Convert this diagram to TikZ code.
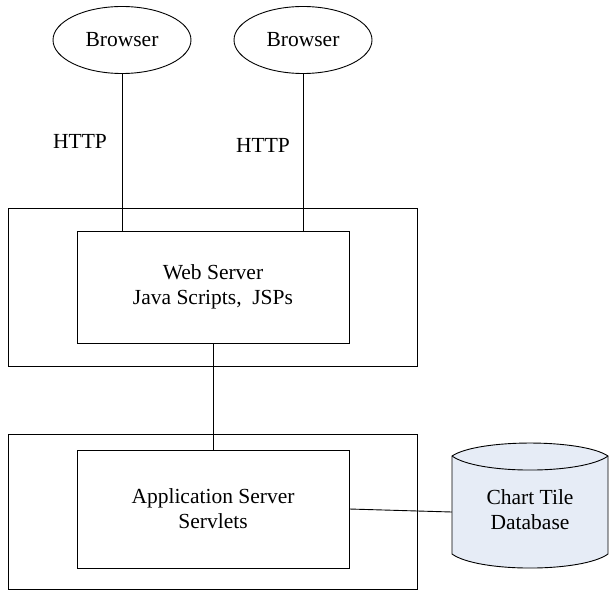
\documentclass[tikz,border=0pt]{standalone}
\usepackage{fontspec}
\setmainfont{Liberation Serif}
\usetikzlibrary{shapes.geometric}
\definecolor{dbfill}{RGB}{230,236,246}
\tikzset{
  line/.style={draw=black, line width=0.9pt},
  box/.style={draw=black, line width=0.9pt, rectangle, inner sep=0pt},
  client/.style={draw=black, line width=0.9pt, ellipse, inner sep=0pt,
                 minimum width=138pt, minimum height=67pt},
  lbl/.style={font=\fontsize{21.5}{25}\selectfont, align=center, inner sep=0pt}
}
\begin{document}
\begin{tikzpicture}[x=1pt, y=-1pt]
  \useasboundingbox (0,0) rectangle (609,591);

  % clients
  \node[client, lbl] (b1) at (122,40) {Browser};
  \node[client, lbl] (b2) at (303,40) {Browser};

  % tiers (outer frames)
  \node[box, minimum width=409pt, minimum height=158pt] (webtier) at (212.5,287) {};
  \node[box, minimum width=409pt, minimum height=155pt] (apptier) at (212.5,511.5) {};

  % servers
  \node[box, lbl, minimum width=272pt, minimum height=112pt] (web) at (213,287)
       {Web Server\\Java Scripts,\ \ JSPs};
  \node[box, lbl, minimum width=272pt, minimum height=118pt] (app) at (213,509)
       {Application Server\\Servlets};

  % database drum
  \filldraw[fill=dbfill, draw=black, line width=0.9pt]
    (452,456) .. controls (478,438.7) and (582,438.7) .. (608,456)
    -- (608,554) .. controls (582,572.7) and (478,572.7) .. (452,554) -- cycle;
  \draw[line] (452,456) .. controls (478,474.7) and (582,474.7) .. (608,456);
  \node[minimum width=156pt, minimum height=112pt, inner sep=0pt] (db) at (530,512) {};
  \node[lbl] (dbtext) at (530,510) {Chart Tile\\Database};

  % labels
  \node[lbl] (h1) at (80,141) {HTTP};
  \node[lbl] (h2) at (263,145) {HTTP};

  % connectors
  \draw[line] (b1.south) -- (b1.south |- web.north);
  \draw[line] (b2.south) -- (b2.south |- web.north);
  \draw[line] (web.south) -- (app.north);
  \draw[line] (app.east) -- (db.west);
\end{tikzpicture}
\end{document}
